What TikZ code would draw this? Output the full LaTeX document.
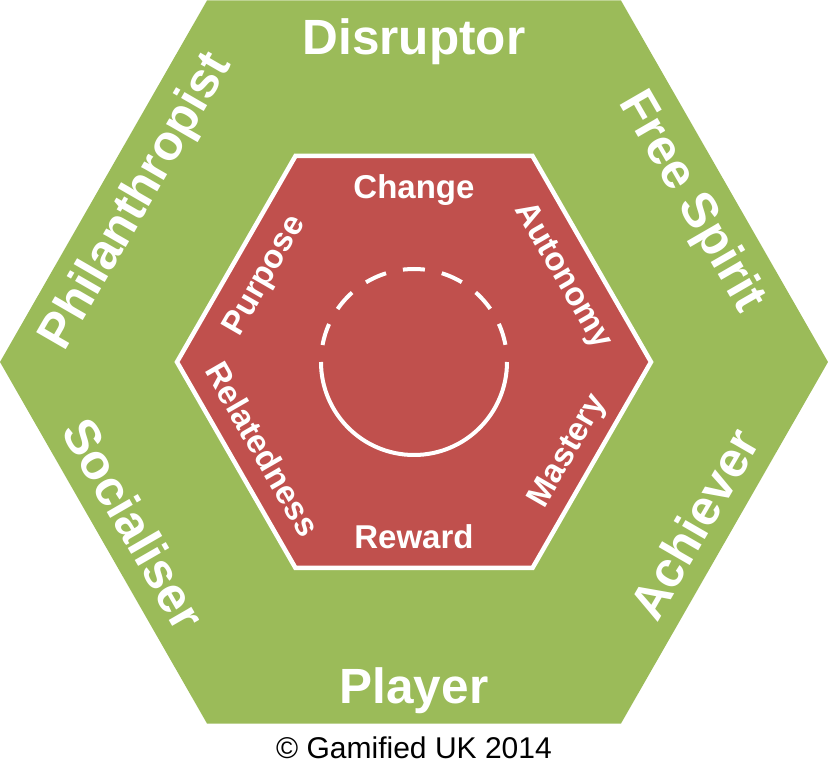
\documentclass[tikz,border=0pt]{standalone}
\usepackage{fontspec}
\setmainfont{Liberation Sans}
\definecolor{hexgreen}{HTML}{9BBB59}
\definecolor{hexred}{HTML}{C0504D}

\begin{document}
\begin{tikzpicture}[x=1pt, y=1pt,
  outerlabel/.style={text=white, inner sep=0pt, font=\fontsize{49.5}{52}\selectfont\bfseries,
    text height=34pt, text depth=0pt},
  innerlabel/.style={text=white, inner sep=0pt, font=\fontsize{33}{35}\selectfont\bfseries,
    text height=22.7pt, text depth=0pt},
  ring/.style={white, line width=4pt}]

  \useasboundingbox (-414,-398) rectangle (414,362);

  % Outer hexagon
  \fill[hexgreen] (-414,0) -- (-207,361.5) -- (207,361.5) -- (414,0)
    -- (207,-361.5) -- (-207,-361.5) -- cycle;

  % Inner hexagon
  \filldraw[fill=hexred, draw=white, line width=4.5pt] (-237,0) -- (-118.5,206)
    -- (118.5,206) -- (237,0) -- (118.5,-206) -- (-118.5,-206) -- cycle;

  % Circle, dashed on top
  \draw[ring] (-93,0) arc[start angle=180, end angle=360, radius=93];
  \draw[ring, dash pattern=on 22pt off 17.3pt, dash phase=22pt]
    (93,0) arc[start angle=0, end angle=180, radius=93];

  % Nodes for player types
  \node[outerlabel]             (dis) at (90:324)  {Disruptor};
  \node[outerlabel, rotate=-60] (fre) at (30:324)  {Free Spirit};
  \node[outerlabel, rotate=60]  (ach) at (-30:324) {Achiever};
  \node[outerlabel]             (pla) at (-90:324) {Player};
  \node[outerlabel, rotate=-60] (soc) at (210:324) {Socialiser};
  \node[outerlabel, rotate=60]  (phi) at (150:324) {Philanthropist};

  % Nodes for motivations
  \node[innerlabel]             (cha) at (90:175)  {Change};
  \node[innerlabel, rotate=-60] (aut) at (30:175)  {Autonomy};
  \node[innerlabel, rotate=60]  (mas) at (-30:175) {Mastery};
  \node[innerlabel]             (rew) at (-90:175) {Reward};
  \node[innerlabel, rotate=-60] (rel) at (210:175) {Relatedness};
  \node[innerlabel, rotate=60]  (pur) at (150:175) {Purpose};

  % Copyright line
  \node[inner sep=0pt, font=\fontsize{30}{32}\selectfont, text height=20pt, text depth=0pt]
    (copy) at (0,-386) {© Gamified UK 2014};

\end{tikzpicture}
\end{document}
